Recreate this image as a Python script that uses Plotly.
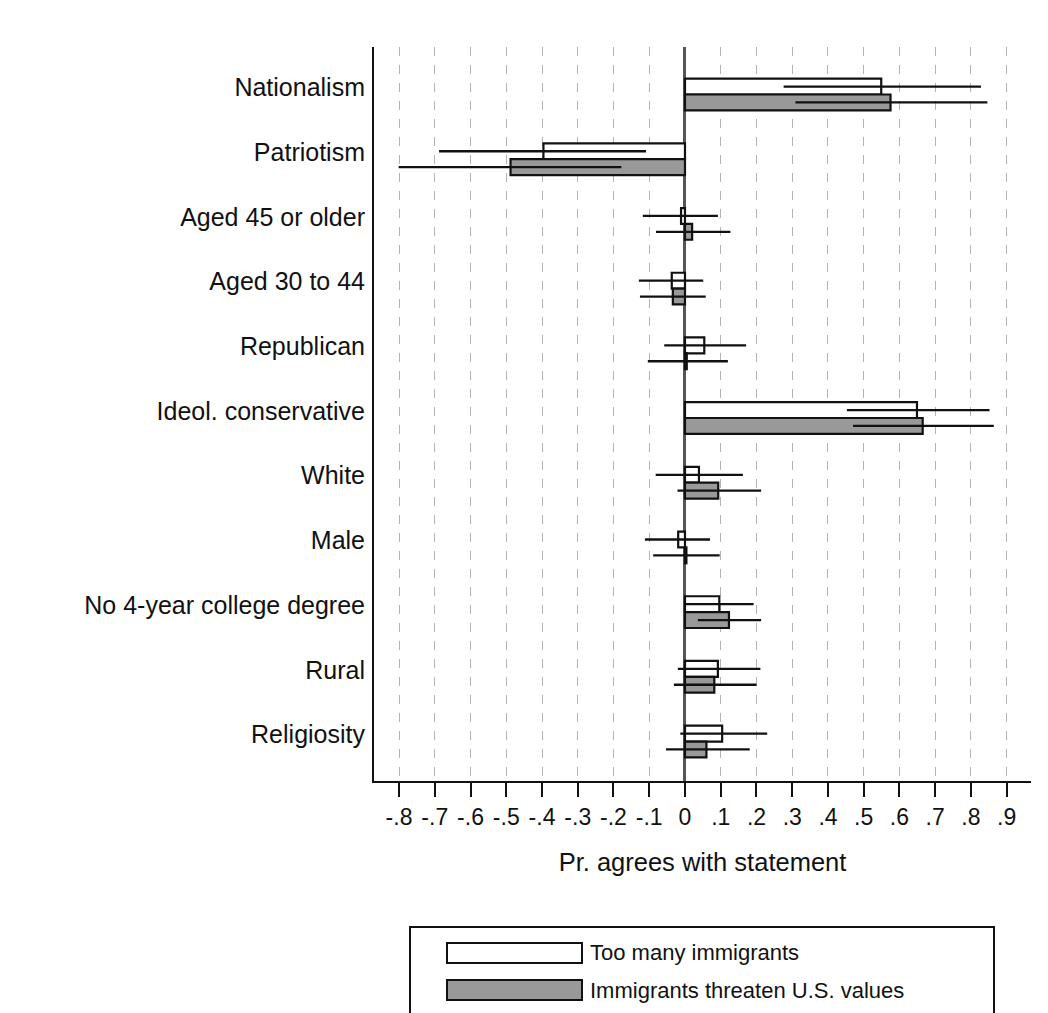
import plotly.graph_objects as go

categories = ["Nationalism", "Patriotism", "Aged 45 or older", "Aged 30 to 44",
              "Republican", "Ideol. conservative", "White", "Male",
              "No 4-year college degree", "Rural", "Religiosity"]

series_names = ["Too many immigrants", "Immigrants threaten U.S. values"]

too_many = [0.549, -0.396, -0.011, -0.037, 0.054, 0.649, 0.039, -0.019, 0.096, 0.092, 0.104]
too_many_lo = [0.276, -0.688, -0.118, -0.129, -0.058, 0.453, -0.082, -0.112, 0.000, -0.020, -0.013]
too_many_hi = [0.828, -0.109, 0.092, 0.051, 0.171, 0.852, 0.162, 0.070, 0.192, 0.211, 0.230]

threaten = [0.575, -0.488, 0.020, -0.034, 0.005, 0.665, 0.093, 0.004, 0.123, 0.082, 0.060]
threaten_lo = [0.309, -0.801, -0.081, -0.126, -0.104, 0.470, -0.021, -0.089, 0.036, -0.031, -0.053]
threaten_hi = [0.846, -0.178, 0.127, 0.058, 0.120, 0.864, 0.213, 0.097, 0.213, 0.200, 0.181]

tick_vals = [-0.8, -0.7, -0.6, -0.5, -0.4, -0.3, -0.2, -0.1, 0, 0.1, 0.2, 0.3, 0.4, 0.5, 0.6, 0.7, 0.8, 0.9]
tick_text = ["-.8", "-.7", "-.6", "-.5", "-.4", "-.3", "-.2", "-.1", "0",
             ".1", ".2", ".3", ".4", ".5", ".6", ".7", ".8", ".9"]

FONT = "Arial, Liberation Sans, sans-serif"
OFF = 8  # page body margin
W, H = 1048 - OFF, 1013 - OFF
ML, MT = 374 - OFF, 47 - OFF
PW, PH = 657, 734
MR, MB = W - ML - PW, H - MT - PH

ypos = list(range(len(categories)))

fig = go.Figure()
fills = ["white", "#999999"]
for name, est, lo, hi, fill in [
    (series_names[0], too_many, too_many_lo, too_many_hi, fills[0]),
    (series_names[1], threaten, threaten_lo, threaten_hi, fills[1]),
]:
    fig.add_trace(go.Bar(
        y=ypos, x=est, orientation="h", name=name,
        marker=dict(color=fill, line=dict(color="#111111", width=2.2)),
        error_x=dict(type="data", symmetric=False,
                     array=[h - e for h, e in zip(hi, est)],
                     arrayminus=[e - l for e, l in zip(est, lo)],
                     color="#111111", thickness=2.3, width=0),
        showlegend=False,
    ))


def px_x(px):
    return (px - OFF - ML) / PW


def px_y(py):
    return (MT + PH - (py - OFF)) / PH


shapes = [
    dict(type="rect", xref="paper", yref="paper",
         x0=px_x(410), x1=px_x(994), y0=px_y(1040), y1=px_y(927),
         line=dict(color="#111111", width=2), fillcolor="white"),
]
annotations = []
for i, (name, fill) in enumerate(zip(series_names, fills)):
    top = 943 + i * 37
    shapes.append(dict(type="rect", xref="paper", yref="paper",
                       x0=px_x(447), x1=px_x(582), y0=px_y(top + 20), y1=px_y(top),
                       line=dict(color="#111111", width=2), fillcolor=fill))
    annotations.append(dict(xref="paper", yref="paper", x=px_x(588), y=px_y(top + 10),
                            text=name, showarrow=False, xanchor="left", yanchor="middle",
                            font=dict(family=FONT, size=22, color="#111111")))

fig.update_layout(
    width=W, height=H,
    margin=dict(l=ML, r=MR, t=MT, b=MB, pad=0),
    paper_bgcolor="white", plot_bgcolor="white",
    barmode="group", bargap=0.51, bargroupgap=0,
    font=dict(family=FONT, color="#111111"),
    shapes=shapes, annotations=annotations,
    showlegend=False,
)
fig.update_xaxes(
    range=[-0.870, 0.968],
    tickvals=tick_vals, ticktext=tick_text,
    tickfont=dict(size=23, family=FONT, color="#111111"),
    ticks="outside", ticklen=14, tickwidth=2, tickcolor="#111111",
    showline=True, linecolor="#111111", linewidth=2,
    showgrid=True, gridcolor="#b3b3b3", gridwidth=1.2, griddash="dash",
    zeroline=True, zerolinecolor="#555555", zerolinewidth=2.6,
    title=dict(text="Pr. agrees with statement", standoff=25,
               font=dict(size=25.5, family=FONT, color="#111111")),
)
fig.update_yaxes(
    range=[10.61, -0.734],
    tickvals=[p - 0.108 for p in ypos], ticktext=categories,
    tickfont=dict(size=25, family=FONT, color="#111111"),
    ticks="", ticklabelstandoff=2,
    showline=True, linecolor="#111111", linewidth=2,
    showgrid=False, zeroline=False,
)

fig.write_html("out.html")
